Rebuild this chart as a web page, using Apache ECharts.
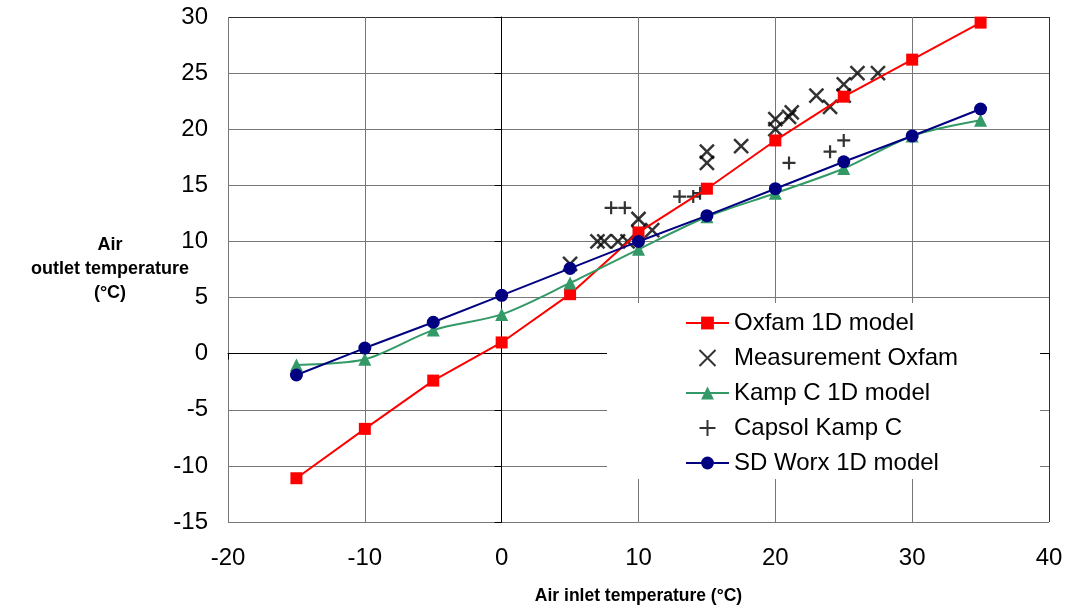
<!DOCTYPE html>
<html>
<head>
<meta charset="utf-8">
<script src="https://cdn.jsdelivr.net/npm/echarts@6/dist/echarts.min.js"></script>
<style>
  html, body { margin: 0; padding: 0; background: #fff; }
  #chart { width: 1067px; height: 607px; }
</style>
</head>
<body>
<div id="chart"></div>
<script>
// model curves share the same inlet temperatures
var inletTemps = [-15, -10, -5, 0, 5, 10, 15, 20, 25, 30, 35]
var oxfamModel = [-11.1, -6.7, -2.4, 1.0, 5.3, 10.8, 14.7, 19.0, 22.9, 26.2, 29.5]
var kampModel = [-1.0, -0.5, 2.1, 3.5, 6.3, 9.3, 12.2, 14.3, 16.5, 19.4, 20.8]
var sdWorxModel = [-1.9, 0.5, 2.8, 5.2, 7.6, 10.0, 12.3, 14.7, 17.1, 19.4, 21.8]

// measurements
var oxfamMeasIn = [5, 7, 7.5, 8.5, 9.2, 10, 10, 11, 15, 15, 17.5, 20, 20, 21, 21.2, 23, 24, 25, 25, 26, 27.5]
var oxfamMeasOut = [8, 10, 10, 10, 10, 12, 10.8, 11, 18, 17, 18.5, 20.9, 20, 21.1, 21.5, 23, 22, 24, 23, 25, 25]
var capsolIn = [8, 9, 13, 14, 14.5, 21, 24, 25]
var capsolOut = [13, 13, 14, 14, 14.3, 17, 18, 19]

function zip(xs, ys) {
  return xs.map(function (x, i) { return [x, ys[i]] })
}

var font = "'Liberation Sans', Arial, sans-serif"
var crossPath = 'path://M0,0L10,10M0,10L10,0'
var plusPath = 'path://M5,0L5,10M0,5L10,5'

var chart = echarts.init(document.getElementById('chart'))
chart.setOption({
  animation: false,
  textStyle: { fontFamily: font },
  grid: { left: 228, right: 18, top: 17, bottom: 85, containLabel: false, outerBoundsMode: 'none' },
  legend: {
    orient: 'vertical',
    left: 607,
    top: 303,
    padding: [8, 82, 4, 78],
    backgroundColor: '#fff',
    itemWidth: 43,
    itemHeight: 16,
    itemGap: 11,
    textStyle: { fontSize: 24, color: '#000', fontFamily: font },
    data: ['Oxfam 1D model', 'Measurement Oxfam', 'Kamp C 1D model', 'Capsol Kamp C', 'SD Worx 1D model']
  },
  xAxis: {
    type: 'value',
    min: -20,
    max: 40,
    interval: 10,
    name: 'Air inlet temperature (°C)',
    nameLocation: 'middle',
    nameGap: 65,
    nameMoveOverlap: false,
    nameTextStyle: { fontSize: 17.5, fontWeight: 'bold', color: '#000' },
    axisLine: { lineStyle: { color: '#000', width: 1 } },
    axisTick: { show: true, length: 6, lineStyle: { color: '#000' } },
    axisLabel: { fontSize: 24, color: '#000', margin: 24 },
    splitLine: {
      show: true,
      lineStyle: { color: ['#777', '#777', '#777', '#777', '#777', '#777', '#333'], width: 1 }
    }
  },
  yAxis: {
    type: 'value',
    min: -15,
    max: 30,
    interval: 5,
    name: 'Air\noutlet temperature\n(°C)',
    nameLocation: 'middle',
    nameRotate: 0,
    nameGap: 118,
    nameMoveOverlap: false,
    nameTextStyle: { fontSize: 18, fontWeight: 'bold', color: '#000', align: 'center', verticalAlign: 'middle', lineHeight: 24, padding: [6, 0, 0, 0] },
    axisLine: { show: true, lineStyle: { color: '#000', width: 1 } },
    axisTick: { show: true, length: 7, lineStyle: { color: '#000' } },
    axisLabel: { fontSize: 24, color: '#000', margin: 20 },
    splitLine: {
      show: true,
      lineStyle: { color: ['#777', '#777', '#777', '#777', '#777', '#777', '#777', '#777', '#777', '#333'], width: 1 }
    }
  },
  series: [
    {
      name: 'Oxfam 1D model',
      type: 'line',
      data: zip(inletTemps, oxfamModel),
      symbol: 'rect',
      symbolSize: 12,
      showAllSymbol: true,
      lineStyle: { color: '#ff0000', width: 2 },
      itemStyle: { color: '#ff0000' }
    },
    {
      name: 'Measurement Oxfam',
      type: 'scatter',
      data: zip(oxfamMeasIn, oxfamMeasOut),
      symbol: crossPath,
      symbolSize: 14,
      itemStyle: { color: 'transparent', borderColor: '#000', borderWidth: 2.5 }
    },
    {
      name: 'Kamp C 1D model',
      type: 'line',
      data: zip(inletTemps, kampModel),
      smooth: 0.3,
      symbol: 'triangle',
      symbolSize: 13,
      showAllSymbol: true,
      lineStyle: { color: '#339966', width: 2 },
      itemStyle: { color: '#339966' }
    },
    {
      name: 'Capsol Kamp C',
      type: 'scatter',
      data: zip(capsolIn, capsolOut),
      symbol: plusPath,
      symbolSize: 13,
      itemStyle: { color: 'transparent', borderColor: '#000', borderWidth: 2.2 }
    },
    {
      name: 'SD Worx 1D model',
      type: 'line',
      data: zip(inletTemps, sdWorxModel),
      symbol: 'circle',
      symbolSize: 13,
      showAllSymbol: true,
      lineStyle: { color: '#000080', width: 2 },
      itemStyle: { color: '#000080' }
    }
  ]
})
</script>
</body>
</html>
